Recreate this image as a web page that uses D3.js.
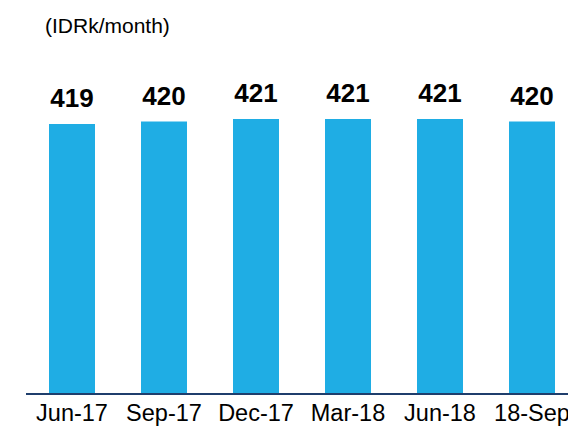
<!DOCTYPE html>
<html>
<head>
<meta charset="utf-8">
<script src="https://cdn.jsdelivr.net/npm/d3@7"></script>
<style>
  body { margin: 0; background: #fff; }
  svg { display: block; font-family: "Liberation Sans", Arial, sans-serif; }
</style>
</head>
<body>
<svg id="chart" width="568" height="428"></svg>
<script>
var periods = ['Jun-17', 'Sep-17', 'Dec-17', 'Mar-18', 'Jun-18', '18-Sep'];
var arpu = [419, 420, 421, 421, 421, 420];

var svg = d3.select('#chart');

// x軸: バンド
var x = d3.scaleBand().domain(periods).range([3, 601]).padding(0.5);
// y軸: ゼロ起点ではない
var y = d3.scaleLinear().domain([311.5, 421]).range([393, 119]);

svg.append('text')
  .attr('x', 45)
  .attr('y', 33)
  .style('font-size', '21px')
  .style('fill', '#000')
  .text('(IDRk/month)');

svg.selectAll('rect.bar')
  .data(arpu)
  .enter()
  .append('rect')
  .attr('class', 'bar')
  .attr('x', function(d, i) { return x(periods[i]); })
  .attr('y', function(d) { return y(d); })
  .attr('width', x.bandwidth())
  .attr('height', function(d) { return y.range()[0] - y(d); })
  .style('fill', '#1FADE4');

svg.selectAll('text.val')
  .data(arpu)
  .enter()
  .append('text')
  .attr('class', 'val')
  .attr('x', function(d, i) { return x(periods[i]) + x.bandwidth() / 2; })
  .attr('y', function(d) { return y(d) - 17; })
  .attr('text-anchor', 'middle')
  .style('font-size', '26px')
  .style('font-weight', 'bold')
  .text(function(d) { return d; });

// 軸
var axis = svg.append('g')
  .attr('transform', 'translate(0,' + 394 + ')')
  .call(d3.axisBottom(x).tickSize(0).tickPadding(10));
axis.select('.domain').attr('d', 'M26,0H568').style('stroke', '#1F3E6C').style('stroke-width', 2);
axis.selectAll('text')
  .style('font-size', '23.5px')
  .style('fill', '#000')
  .style('font-family', '"Liberation Sans", Arial, sans-serif');
</script>
</body>
</html>
